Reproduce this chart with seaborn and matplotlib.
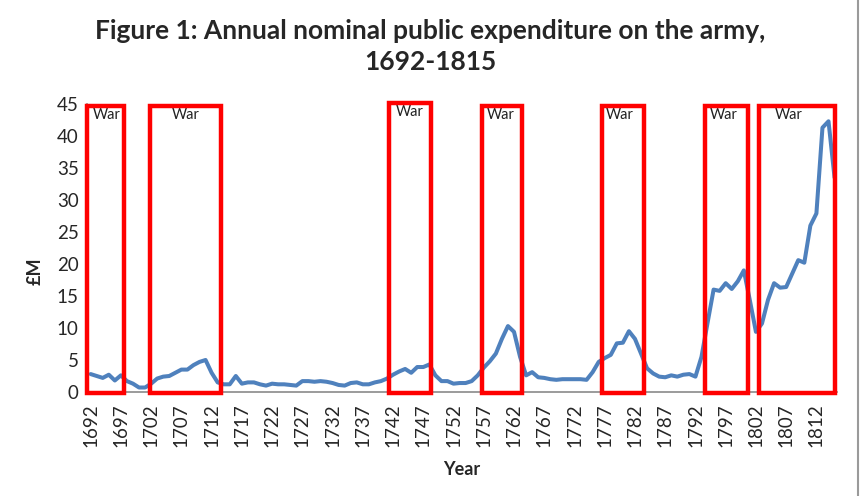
import numpy as np
import pandas as pd
import seaborn as sns
import matplotlib.pyplot as plt
from matplotlib.patches import Rectangle
from matplotlib.lines import Line2D

# Annual nominal army expenditure, £M, 1692-1815
years = np.arange(1692, 1816)
spend = [
    2.8, 2.5, 2.2, 2.7, 1.8, 2.6, 1.7, 1.3, 0.7, 0.7,
    1.3, 2.1, 2.4, 2.5, 3.0, 3.5, 3.5, 4.2, 4.7, 5.0,
    3.0, 1.5, 1.2, 1.2, 2.5, 1.3, 1.5, 1.5, 1.2, 1.0,
    1.3, 1.2, 1.2, 1.1, 1.0, 1.7, 1.7, 1.6, 1.7, 1.6,
    1.4, 1.1, 1.0, 1.4, 1.5, 1.2, 1.2, 1.5, 1.7, 2.1,
    2.7, 3.2, 3.6, 3.0, 3.9, 3.9, 4.3, 2.6, 1.7, 1.7,
    1.3, 1.4, 1.4, 1.7, 2.6, 3.8, 4.8, 6.0, 8.3, 10.3,
    9.4, 5.5, 2.6, 3.1, 2.3, 2.2, 2.0, 1.9, 2.0, 2.0,
    2.0, 2.0, 1.9, 3.1, 4.7, 5.3, 5.8, 7.6, 7.7, 9.5,
    8.3, 6.0, 3.7, 2.9, 2.4, 2.3, 2.6, 2.4, 2.7, 2.8,
    2.4, 5.5, 10.8, 16.0, 15.8, 17.0, 16.1, 17.3, 19.0, 14.3,
    9.4, 10.7, 14.4, 17.0, 16.3, 16.4, 18.5, 20.6, 20.2, 26.0,
    27.9, 41.3, 42.3, 33.5,
]

# war periods marked with red boxes (start, end)
war_start = [1691.45, 1701.8, 1741.4, 1756.75, 1776.6, 1793.5, 1802.55]
war_end = [1697.5, 1713.55, 1748.3, 1763.4, 1783.55, 1800.75, 1815.1]
war_label_x = [1692.35, 1707.7, 1744.75, 1759.8, 1779.4, 1796.7, 1807.35]

df = pd.DataFrame({"Year": years, "Spend": spend})

sns.set_style("white")
plt.rcParams["font.family"] = ["Lato", "DejaVu Sans"]

fig = plt.figure(figsize=(8.65, 4.96), dpi=100)
ax = fig.add_axes([0.1006, 0.2097, 0.8670, 0.5806])

sns.lineplot(data=df, x="Year", y="Spend", color="#4F81BD", linewidth=2.9, ax=ax)

ax.set_xlim(1691.4, 1815.4)
ax.set_ylim(0, 45)
ax.set_yticks(range(0, 46, 5))
ax.set_xticks(years)
ax.set_xticklabels([str(y) if (y - 1692) % 5 == 0 else "" for y in years],
                   rotation=90, fontsize=13.5)
ax.tick_params(axis="x", length=4, width=0.8, color="#8a8a8a", direction="out", pad=4)
ax.tick_params(axis="y", length=0, labelsize=13.5, pad=6)

for side in ["top", "right"]:
    ax.spines[side].set_visible(False)
for side in ["left", "bottom"]:
    ax.spines[side].set_color("#8a8a8a")
    ax.spines[side].set_linewidth(1.2)

# red "War" boxes
for i in range(len(war_start)):
    top = 45.1 if i == 2 else 44.75
    ax.add_patch(Rectangle((war_start[i], -0.15), war_end[i] - war_start[i], top + 0.15,
                           fill=False, edgecolor="#ff0000", linewidth=3.2,
                           clip_on=False, zorder=5))
    ax.text(war_label_x[i], 43.8 if i == 2 else 43.3, "War",
            ha="left" if i == 0 else "center", va="center", fontsize=10.5, color="#222222")

ax.set_xlabel("Year", fontsize=13, fontweight="bold", labelpad=10)
ax.set_ylabel("£M", fontsize=13, fontweight="bold")
ax.yaxis.set_label_coords(-0.058, 0.42)

fig.suptitle("Figure 1: Annual nominal public expenditure on the army,\n1692-1815",
             x=0.497, y=0.962, fontsize=19, fontweight="bold", linespacing=1.35)

# grey border on the right edge of the screenshot
fig.add_artist(Line2D([0.992, 0.992], [0, 1], color="#9a9a9a", linewidth=1.5,
                      transform=fig.transFigure))

fig.savefig("out.png", dpi=100)
